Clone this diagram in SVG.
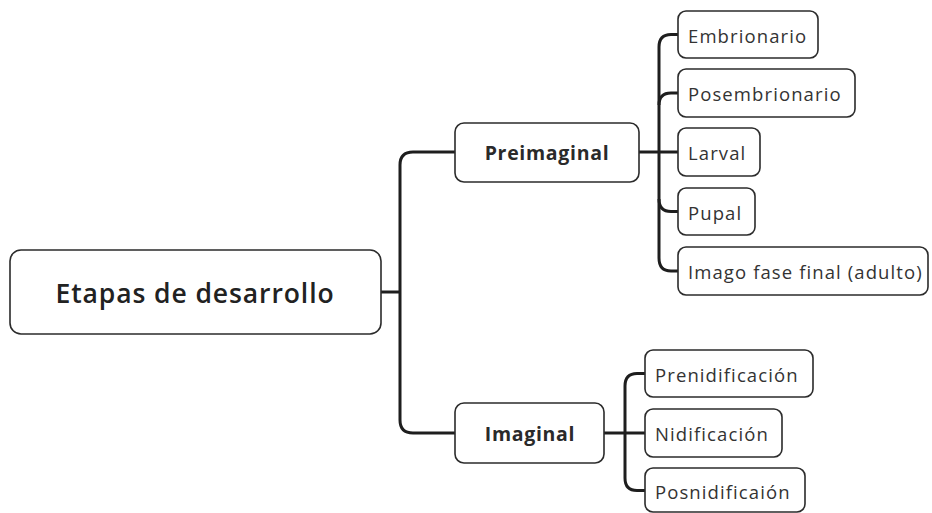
<svg xmlns="http://www.w3.org/2000/svg" width="932" height="513" viewBox="0 0 932 513">
<style>
.box{fill:#fff;stroke:#2b2b2b;stroke-width:1.6}
.conn{fill:none;stroke:#1e1e1e;stroke-width:3;stroke-linecap:butt}
.root{font-family:"Open Sans","Noto Sans",sans-serif;font-size:26.5px;font-weight:600;fill:#222;text-anchor:middle;dominant-baseline:central;letter-spacing:0.9px}
.mid{font-family:"Open Sans","Noto Sans",sans-serif;font-size:19.5px;font-weight:700;fill:#2a2a2a;text-anchor:middle;dominant-baseline:central;letter-spacing:0.7px}
.leaf{font-family:"Open Sans","Noto Sans",sans-serif;font-size:18.5px;fill:#333;dominant-baseline:central;letter-spacing:1.1px}
</style>
<rect width="932" height="513" fill="#fff"/>
<g id="connectors">
<path class="conn" d="M381,292 H400"/>
<path class="conn" d="M400,292 V165 Q400,152 413,152 H455"/>
<path class="conn" d="M400,292 V420 Q400,433 413,433 H455"/>
<path class="conn" d="M639,152 H678"/>
<path class="conn" d="M659,152 V47 Q659,34.5 671,34.5 H678"/>
<path class="conn" d="M659,105 Q659,93 671,93 H678"/>
<path class="conn" d="M659,199 Q659,211.5 671,211.5 H678"/>
<path class="conn" d="M659,152 V258 Q659,271 671,271 H678"/>
<path class="conn" d="M604,433 H645"/>
<path class="conn" d="M625,433 V386 Q625,373.5 637,373.5 H645"/>
<path class="conn" d="M625,433 V478 Q625,490.5 637,490.5 H645"/>
</g>
<g id="root"><rect class="box" x="10" y="250" width="371" height="84" rx="11"/><text class="root" x="195" y="293">Etapas de desarrollo</text></g>
<g id="preimaginal"><rect class="box" x="455" y="123" width="184" height="59" rx="9"/><text class="mid" x="547" y="152.5">Preimaginal</text></g>
<g id="imaginal"><rect class="box" x="455" y="403" width="149" height="60" rx="9"/><text class="mid" x="530" y="433">Imaginal</text></g>
<g id="embrionario"><rect class="box" x="678" y="11" width="140" height="47" rx="8"/><text class="leaf" x="688" y="35">Embrionario</text></g>
<g id="posembrionario"><rect class="box" x="678" y="69" width="177" height="48" rx="8"/><text class="leaf" x="688" y="93">Posembrionario</text></g>
<g id="larval"><rect class="box" x="678" y="128" width="82" height="48" rx="8"/><text class="leaf" x="688" y="152">Larval</text></g>
<g id="pupal"><rect class="box" x="678" y="188" width="77" height="47" rx="8"/><text class="leaf" x="688" y="212">Pupal</text></g>
<g id="imago"><rect class="box" x="678" y="247" width="250" height="48" rx="8"/><text class="leaf" x="688" y="271">Imago fase final (adulto)</text></g>
<g id="prenidificacion"><rect class="box" x="645" y="350" width="168" height="47" rx="8"/><text class="leaf" x="655" y="374">Prenidificación</text></g>
<g id="nidificacion"><rect class="box" x="645" y="409" width="137" height="48" rx="8"/><text class="leaf" x="655" y="433">Nidificación</text></g>
<g id="posnidificacion"><rect class="box" x="645" y="468" width="160" height="44" rx="8"/><text class="leaf" x="655" y="491">Posnidificaión</text></g>
</svg>
